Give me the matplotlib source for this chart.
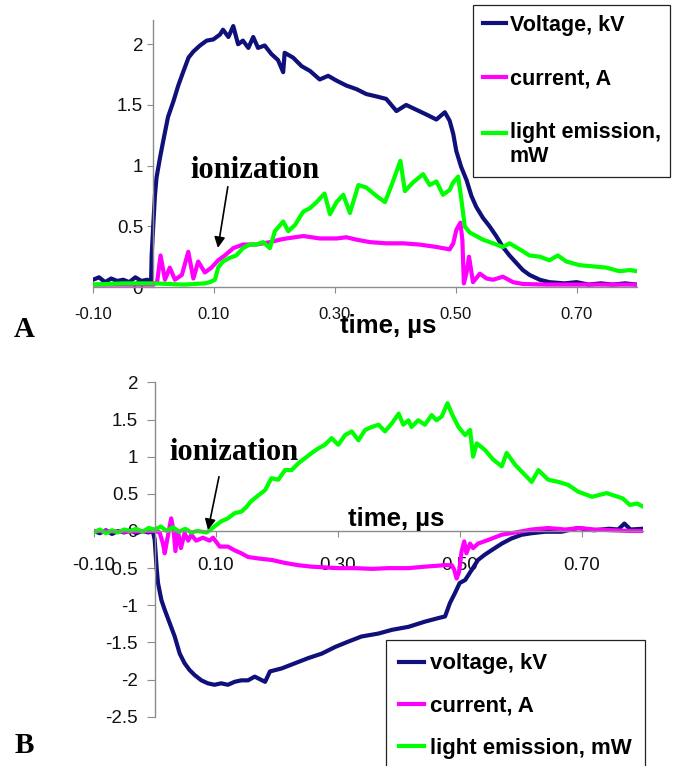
import matplotlib
matplotlib.use("Agg")
import numpy as np
import matplotlib.pyplot as plt
from matplotlib.legend_handler import HandlerLine2D

# ==========================================
# Data
# ==========================================

# Panel A - voltage, kV
a_volt_t = [-0.100, -0.090, -0.080, -0.070, -0.060, -0.050, -0.040, -0.030, -0.020,
            -0.010, -0.004, -0.003, 0.000, 0.0025, 0.005, 0.011, 0.016, 0.024, 0.033,
            0.041, 0.049, 0.058, 0.066, 0.077, 0.088, 0.099, 0.110, 0.115, 0.124,
            0.132, 0.140, 0.148, 0.157, 0.165, 0.173, 0.184, 0.195, 0.206, 0.2146,
            0.217, 0.231, 0.245, 0.259, 0.275, 0.289, 0.303, 0.319, 0.336, 0.352,
            0.369, 0.385, 0.402, 0.418, 0.435, 0.452, 0.468, 0.482, 0.490, 0.496,
            0.501, 0.509, 0.518, 0.526, 0.534, 0.545, 0.556, 0.567, 0.578, 0.589,
            0.600, 0.611, 0.622, 0.639, 0.655, 0.680, 0.700, 0.720, 0.740, 0.760,
            0.780, 0.800]
a_volt = [0.06, 0.08, 0.04, 0.07, 0.05, 0.06, 0.04, 0.08, 0.05,
          0.06, 0.03, 0.26, 0.54, 0.76, 0.90, 1.07, 1.20, 1.40, 1.53,
          1.66, 1.77, 1.89, 1.94, 1.99, 2.03, 2.04, 2.08, 2.12, 2.06,
          2.15, 2.00, 2.03, 1.97, 2.06, 1.97, 1.99, 1.92, 1.87, 1.77,
          1.93, 1.89, 1.82, 1.78, 1.71, 1.74, 1.70, 1.66, 1.63, 1.59,
          1.57, 1.55, 1.45, 1.50, 1.46, 1.42, 1.38, 1.44, 1.37, 1.26,
          1.12, 0.99, 0.88, 0.75, 0.66, 0.57, 0.50, 0.42, 0.33, 0.26,
          0.20, 0.14, 0.10, 0.06, 0.04, 0.03, 0.04, 0.02, 0.03, 0.02,
          0.03, 0.02]

# Panel A - current, A
a_curr_t = [-0.100, -0.050, 0.000, 0.006, 0.0117, 0.019, 0.027, 0.0355, 0.047,
            0.0576, 0.066, 0.074, 0.085, 0.096, 0.107, 0.118, 0.132, 0.148, 0.170,
            0.193, 0.209, 0.220, 0.248, 0.275, 0.303, 0.319, 0.336, 0.358, 0.385,
            0.413, 0.440, 0.468, 0.490, 0.496, 0.501, 0.5077, 0.511, 0.5135, 0.518,
            0.522, 0.5286, 0.540, 0.551, 0.562, 0.578, 0.595, 0.611, 0.650, 0.700,
            0.750, 0.800]
a_curr = [0.02, 0.02, 0.02, 0.04, 0.26, 0.06, 0.16, 0.06, 0.10,
          0.29, 0.07, 0.21, 0.12, 0.16, 0.22, 0.26, 0.32, 0.35, 0.35,
          0.37, 0.39, 0.40, 0.42, 0.40, 0.40, 0.41, 0.39, 0.37, 0.36,
          0.36, 0.35, 0.33, 0.31, 0.36, 0.47, 0.53, 0.39, 0.03, 0.12,
          0.25, 0.04, 0.11, 0.07, 0.06, 0.085, 0.04, 0.025, 0.02, 0.02,
          0.02, 0.02]

# Panel A - light emission, mW
a_light_t = [-0.100, -0.050, 0.000, 0.050, 0.085, 0.093, 0.1017, 0.107, 0.115,
             0.126, 0.137, 0.148, 0.1595, 0.170, 0.1815, 0.1926, 0.2008, 0.2146,
             0.223, 0.234, 0.2476, 0.259, 0.270, 0.283, 0.292, 0.303, 0.314, 0.325,
             0.339, 0.352, 0.369, 0.383, 0.394, 0.402, 0.4085, 0.416, 0.429, 0.446,
             0.457, 0.468, 0.479, 0.490, 0.4956, 0.504, 0.5094, 0.515, 0.523, 0.534,
             0.545, 0.562, 0.578, 0.589, 0.606, 0.622, 0.639, 0.655, 0.669, 0.683,
             0.705, 0.727, 0.749, 0.771, 0.788, 0.800]
a_light = [0.02, 0.03, 0.03, 0.02, 0.03, 0.04, 0.06, 0.16, 0.21,
           0.24, 0.26, 0.32, 0.35, 0.35, 0.37, 0.32, 0.46, 0.54,
           0.46, 0.51, 0.62, 0.65, 0.70, 0.77, 0.60, 0.70, 0.76, 0.61,
           0.84, 0.82, 0.75, 0.70, 0.84, 0.95, 1.04, 0.79, 0.86, 0.93,
           0.84, 0.87, 0.76, 0.80, 0.86, 0.91, 0.72, 0.50, 0.45, 0.42,
           0.39, 0.36, 0.33, 0.36, 0.31, 0.26, 0.25, 0.22, 0.26, 0.21,
           0.18, 0.17, 0.16, 0.13, 0.14, 0.13]

# Panel B - voltage, kV
b_volt_t = [-0.100, -0.090, -0.080, -0.070, -0.060, -0.050, -0.040, -0.030, -0.020,
            -0.010, -0.003, 0.000, 0.003, 0.0054, 0.011, 0.0164, 0.0246, 0.0328,
            0.041, 0.049, 0.057, 0.0656, 0.0765, 0.087, 0.098, 0.109, 0.120, 0.131,
            0.142, 0.153, 0.164, 0.181, 0.189, 0.208, 0.230, 0.252, 0.274, 0.296,
            0.317, 0.339, 0.367, 0.389, 0.416, 0.443, 0.466, 0.476, 0.484, 0.492,
            0.500, 0.509, 0.520, 0.530, 0.541, 0.552, 0.569, 0.585, 0.602, 0.618,
            0.640, 0.667, 0.694, 0.720, 0.745, 0.760, 0.770, 0.780, 0.800]
b_volt = [0.00, -0.03, 0.01, -0.04, 0.00, -0.02, 0.01, -0.03, 0.00,
          -0.02, 0.00, -0.12, -0.48, -0.70, -0.93, -1.06, -1.24, -1.42,
          -1.65, -1.78, -1.87, -1.94, -2.01, -2.05, -2.07, -2.05, -2.07, -2.03,
          -2.01, -2.01, -1.96, -2.03, -1.89, -1.85, -1.78, -1.71, -1.65, -1.56,
          -1.49, -1.42, -1.38, -1.33, -1.29, -1.22, -1.17, -1.15, -0.97, -0.84,
          -0.70, -0.66, -0.52, -0.39, -0.32, -0.26, -0.17, -0.10, -0.05, -0.03,
          -0.01, -0.01, 0.04, 0.01, 0.03, 0.02, 0.10, 0.02, 0.03]

# Panel B - current, A
b_curr_t = [-0.100, -0.050, 0.000, 0.008, 0.0136, 0.0164, 0.022, 0.027, 0.031,
            0.034, 0.038, 0.043, 0.049, 0.055, 0.060, 0.068, 0.079, 0.090, 0.0956,
            0.1066, 0.120, 0.131, 0.142, 0.153, 0.170, 0.192, 0.2136, 0.235, 0.257,
            0.279, 0.301, 0.328, 0.356, 0.383, 0.416, 0.443, 0.476, 0.487, 0.491,
            0.495, 0.499, 0.503, 0.5075, 0.511, 0.517, 0.522, 0.530, 0.547, 0.569,
            0.591, 0.618, 0.645, 0.673, 0.697, 0.720, 0.750, 0.780, 0.800]
b_curr = [0.00, -0.01, 0.00, -0.02, -0.17, -0.30, -0.05, 0.17, 0.00,
          -0.27, 0.00, -0.23, -0.03, -0.13, -0.05, -0.13, -0.09, -0.13, -0.09,
          -0.21, -0.21, -0.26, -0.30, -0.35, -0.37, -0.39, -0.43, -0.46, -0.48,
          -0.49, -0.50, -0.50, -0.51, -0.50, -0.50, -0.48, -0.46, -0.46, -0.52,
          -0.64, -0.55, -0.28, -0.14, -0.30, -0.17, -0.23, -0.17, -0.12, -0.05,
          -0.02, 0.02, 0.04, 0.02, 0.04, 0.02, 0.01, 0.00, 0.00]

# Panel B - light emission, mW
b_light_t = [-0.100, -0.090, -0.080, -0.070, -0.060, -0.050, -0.040, -0.030, -0.020,
             -0.010, 0.000, 0.010, 0.020, 0.030, 0.040, 0.050, 0.060, 0.070, 0.085,
             0.092, 0.101, 0.109, 0.120, 0.131, 0.142, 0.150, 0.158, 0.170, 0.181,
             0.1913, 0.2026, 0.2136, 0.2246, 0.2354, 0.2464, 0.2574, 0.268, 0.279,
             0.290, 0.301, 0.312, 0.323, 0.334, 0.345, 0.356, 0.367, 0.3775, 0.389,
             0.400, 0.4075, 0.416, 0.421, 0.432, 0.443, 0.454, 0.462, 0.4705, 0.480,
             0.487, 0.498, 0.509, 0.517, 0.522, 0.528, 0.5415, 0.555, 0.569, 0.577,
             0.591, 0.604, 0.618, 0.629, 0.645, 0.662, 0.678, 0.694, 0.717, 0.741,
             0.767, 0.779, 0.791, 0.800]
b_light = [-0.02, 0.02, -0.03, 0.01, -0.02, 0.02, 0.00, 0.03, -0.01,
           0.04, 0.02, 0.06, 0.00, 0.05, -0.01, 0.03, -0.02, 0.00, -0.02,
           0.02, 0.08, 0.13, 0.17, 0.24, 0.26, 0.32, 0.40, 0.48, 0.55,
           0.71, 0.69, 0.82, 0.82, 0.91, 0.98, 1.05, 1.11, 1.16,
           1.25, 1.16, 1.29, 1.34, 1.22, 1.36, 1.40, 1.43, 1.34, 1.45,
           1.58, 1.43, 1.49, 1.40, 1.49, 1.43, 1.56, 1.49, 1.54, 1.72,
           1.58, 1.40, 1.29, 1.36, 1.00, 1.18, 1.09, 0.96, 0.87, 1.05,
           0.89, 0.78, 0.66, 0.82, 0.69, 0.66, 0.62, 0.53, 0.46, 0.51,
           0.44, 0.35, 0.37, 0.33]

x_ticks = [-0.10, 0.10, 0.30, 0.50, 0.70]
a_yticks = [0, 0.5, 1, 1.5, 2]
b_yticks = [2, 1.5, 1, 0.5, 0, -0.5, -1, -1.5, -2, -2.5]

a_labels = ["Voltage, kV", "current, A", "light emission,\nmW"]
b_labels = ["voltage, kV", "current, A", "light emission, mW"]

NAVY = "#10107a"
MAGENTA = "#ff00ff"
GREEN = "#00ff00"
AXIS = "#8c8c8c"
SANS = "Liberation Sans"
SERIF = "Liberation Serif"
LW = 3.0

plt.rcParams["font.family"] = SANS


class FirstLineHandler(HandlerLine2D):
    # put the handle next to the first line of a two-line label
    def create_artists(self, legend, orig_handle, xdescent, ydescent,
                       width, height, fontsize, trans):
        artists = super().create_artists(legend, orig_handle, xdescent,
                                         ydescent, width, height,
                                         fontsize, trans)
        for art in artists:
            art.set_ydata(np.asarray(art.get_ydata()) + 0.58 * fontsize)
        return artists


fig = plt.figure(figsize=(6.78, 7.66), dpi=100)

ax_a = fig.add_axes([0.1372, 0.6253, 0.8024, 0.3486])
ax_b = fig.add_axes([0.1382, 0.0643, 0.8097, 0.4365])


def style_axes(ax, ylim, yticks, xpad, ypad, ylen, xsize, ysize):
    ax.set_xlim(-0.10, 0.80)
    ax.set_ylim(*ylim)
    for side in ["top", "right"]:
        ax.spines[side].set_visible(False)
    ax.spines["left"].set_position(("data", 0))
    ax.spines["bottom"].set_position(("data", 0))
    for side in ["left", "bottom"]:
        ax.spines[side].set_color(AXIS)
        ax.spines[side].set_linewidth(1.0)
    ax.set_xticks(x_ticks)
    ax.set_xticklabels([f"{v:.2f}" for v in x_ticks])
    ax.set_yticks(yticks)
    ax.set_yticklabels([f"{v:g}" for v in yticks])
    ax.tick_params(axis="x", direction="out", length=4, color=AXIS,
                   pad=xpad, labelsize=xsize, labelcolor="#111111")
    ax.tick_params(axis="y", direction="out", length=ylen, color=AXIS,
                   pad=ypad, labelsize=ysize, labelcolor="#111111")
    ax.patch.set_visible(False)


# ==========================================
# Panel A
# ==========================================

style_axes(ax_a, (0, 2.2), a_yticks, 10.5, 3.5, 4, 12, 13.5)
la1, = ax_a.plot(a_volt_t, a_volt, color=NAVY, lw=LW)
la2, = ax_a.plot(a_curr_t, a_curr, color=MAGENTA, lw=LW)
la3, = ax_a.plot(a_light_t, a_light, color=GREEN, lw=LW)

ax_a.text(0.168, 0.898, "ionization", family=SERIF, weight="bold",
          fontsize=22, ha="center", va="baseline")
ax_a.annotate("", xy=(0.1066, 0.322), xytext=(0.123, 0.826),
              arrowprops=dict(arrowstyle="-|>", color="black", lw=1.2,
                              mutation_scale=16, shrinkA=0, shrinkB=0))

leg_a = fig.legend([la1, la2, la3], a_labels, loc="upper left",
                   bbox_to_anchor=(0.6976, 0.9935), borderaxespad=0,
                   prop=dict(family=SANS, weight="bold", size=15.5),
                   handlelength=1.1, handletextpad=0.15, borderpad=0.45,
                   labelspacing=1.52, fancybox=False, framealpha=1,
                   edgecolor="#222222",
                   handler_map={la3: FirstLineHandler()})
leg_a.get_frame().set_linewidth(0.9)

fig.text(388 / 678, 1 - 333 / 766, "time, \u00b5s", family=SANS,
         weight="bold", fontsize=18.5, ha="center", va="baseline")
fig.text(24 / 678, 1 - 337 / 766, "A", family=SERIF, weight="bold",
         fontsize=21, ha="center", va="baseline")

# ==========================================
# Panel B
# ==========================================

style_axes(ax_b, (-2.5, 2.0), b_yticks, 15, 6, 6, 13.5, 13.5)
lb1, = ax_b.plot(b_volt_t, b_volt, color=NAVY, lw=LW)
lb2, = ax_b.plot(b_curr_t, b_curr, color=MAGENTA, lw=LW)
lb3, = ax_b.plot(b_light_t, b_light, color=GREEN, lw=LW)

ax_b.text(0.130, 0.956, "ionization", family=SERIF, weight="bold",
          fontsize=22, ha="center", va="baseline")
ax_b.annotate("", xy=(0.0874, 0.013), xytext=(0.1054, 0.731),
              arrowprops=dict(arrowstyle="-|>", color="black", lw=1.2,
                              mutation_scale=16, shrinkA=0, shrinkB=0))

leg_b = fig.legend([lb1, lb2, lb3], b_labels, loc="upper left",
                   bbox_to_anchor=(0.5687, 0.1645), borderaxespad=0,
                   prop=dict(family=SANS, weight="bold", size=16),
                   handlelength=1.15, handletextpad=0.25, borderpad=0.6,
                   labelspacing=0.95, fancybox=False, framealpha=1,
                   edgecolor="#222222")
leg_b.get_frame().set_linewidth(0.9)

fig.text(396 / 678, 1 - 526 / 766, "time, \u00b5s", family=SANS,
         weight="bold", fontsize=18.5, ha="center", va="baseline")
fig.text(24 / 678, 1 - 753 / 766, "B", family=SERIF, weight="bold",
         fontsize=21, ha="center", va="baseline")

fig.savefig("out.png", dpi=100)
